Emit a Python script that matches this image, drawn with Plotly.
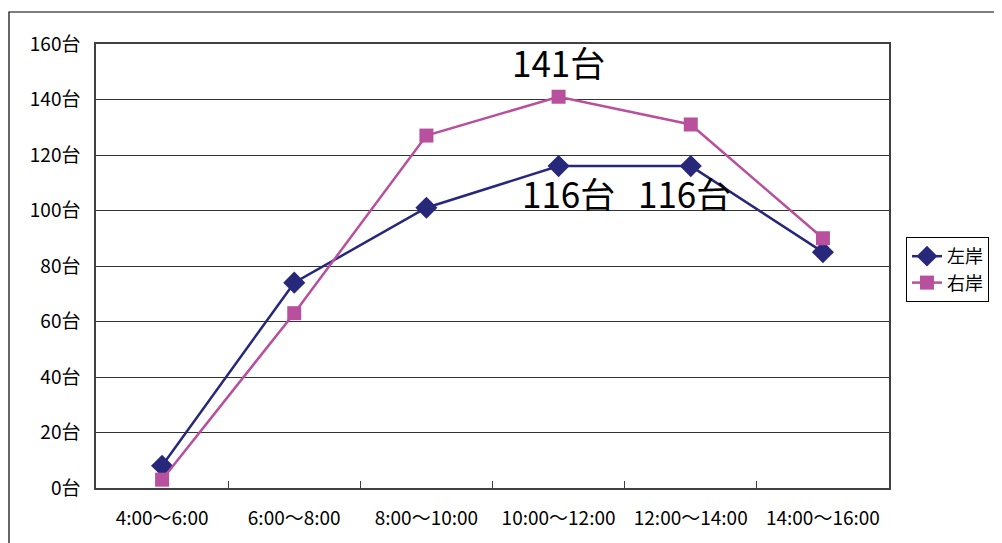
import plotly.graph_objects as go

categories = ["4:00～6:00", "6:00～8:00", "8:00～10:00", "10:00～12:00", "12:00～14:00", "14:00～16:00"]
left_bank = [8, 74, 101, 116, 116, 85]
right_bank = [3, 63, 127, 141, 131, 90]
series_names = ["左岸", "右岸"]
y_ticks = [0, 20, 40, 60, 80, 100, 120, 140, 160]
y_tick_labels = [f"{v}台" for v in y_ticks]

FONT = "Noto Sans CJK JP"
NAVY = "#28287a"
MAGENTA = "#b8509e"

fig = go.Figure()
fig.add_trace(go.Scatter(
    x=categories, y=left_bank, name=series_names[0], mode="lines+markers",
    line=dict(color=NAVY, width=2.5),
    marker=dict(symbol="diamond", size=17, color=NAVY),
))
fig.add_trace(go.Scatter(
    x=categories, y=right_bank, name=series_names[1], mode="lines+markers",
    line=dict(color=MAGENTA, width=2.5),
    marker=dict(symbol="square", size=14, color=MAGENTA),
))

# data labels
fig.add_annotation(x=categories[3], y=right_bank[3], text=f"{right_bank[3]}台",
                   showarrow=False, yshift=35, font=dict(size=35, color="black", family=FONT))
fig.add_annotation(x=categories[3], y=left_bank[3], text=f"{left_bank[3]}台",
                   showarrow=False, yshift=-26, xshift=10, font=dict(size=35, color="black", family=FONT))
fig.add_annotation(x=categories[4], y=left_bank[4], text=f"{left_bank[4]}台",
                   showarrow=False, yshift=-26, xshift=-6, font=dict(size=35, color="black", family=FONT))

# outer chart frame
fig.add_shape(type="rect", xref="paper", yref="paper",
              x0=-0.1097, x1=1.3, y0=-0.3, y1=1.0721,
              line=dict(color="black", width=1.2), fillcolor="rgba(0,0,0,0)", layer="below")

fig.update_layout(
    width=994, height=535,
    margin=dict(l=88, r=113, t=36, b=55),
    paper_bgcolor="white", plot_bgcolor="white",
    font=dict(family=FONT, size=16, color="black"),
    showlegend=True,
    legend=dict(x=1.0214, y=0.5653, xanchor="left", yanchor="top",
                bordercolor="black", borderwidth=1, bgcolor="white",
                entrywidth=90, itemwidth=30,
                font=dict(size=18, family=FONT), tracegroupgap=0),
    xaxis=dict(type="category", showgrid=False, showline=True, linecolor="#404040", linewidth=1.5,
               mirror=True, ticks="inside", tickson="boundaries", ticklen=7, tickcolor="#404040",
               ticklabelstandoff=12, tickfont=dict(size=19, family=FONT), range=[-0.5, 5.5]),
    yaxis=dict(range=[0, 160], tickvals=y_ticks, ticktext=y_tick_labels,
               showgrid=True, gridcolor="#333333", gridwidth=1,
               showline=True, linecolor="#404040", linewidth=1.5, mirror=True,
               ticks="", ticklabelstandoff=10, tickfont=dict(size=19, family=FONT),
               zeroline=False),
)

fig.write_html("out.html")
